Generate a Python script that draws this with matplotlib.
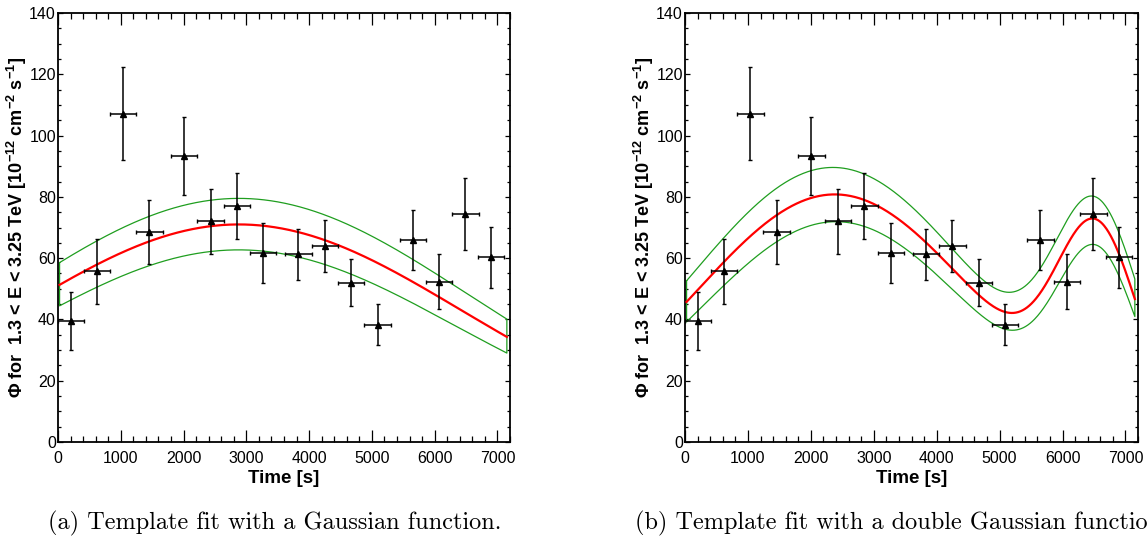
import numpy as np
import matplotlib
matplotlib.use("Agg")
import matplotlib.pyplot as plt
from matplotlib.ticker import MultipleLocator

# ────────────────────────────────────────────────
# Data (same light curve in both panels)
# ────────────────────────────────────────────────
time_s = [205, 620, 1040, 1455, 2010, 2430, 2850, 3270,
          3830, 4250, 4670, 5090, 5650, 6070, 6490, 6900]
time_err = [210] * 16
flux = [39.5, 55.7, 107.2, 68.5, 93.4, 72.0, 77.0, 61.8,
        61.3, 64.0, 52.0, 38.3, 65.9, 52.3, 74.4, 60.3]
flux_err = [9.5, 10.7, 15.1, 10.5, 12.8, 10.7, 10.8, 9.8,
            8.3, 8.6, 7.7, 6.6, 9.7, 8.9, 11.9, 9.9]

# fit parameters: amplitude, mean, sigma (per Gaussian)
gauss_best = [71.0, 2880, 3540]
gauss_upper = [79.5, 2880, 3650]
gauss_lower = [62.7, 2880, 3440]

dgauss_best = [80.8, 2380, 2207, 59.0, 6560, 645]
dgauss_upper = [89.6, 2350, 2253, 64.0, 6560, 680]
dgauss_lower = [71.9, 2400, 2156, 52.9, 6560, 640]

fit_range = [25, 7150]

captions = ["(a) Template fit with a Gaussian function.",
            "(b) Template fit with a double Gaussian function."]

ylabel = (r"Φ for  1.3 < E < 3.25 TeV [10$^{-12}$ cm$^{-2}$ s$^{-1}$]")

# ────────────────────────────────────────────────
# Style
# ────────────────────────────────────────────────
plt.rcParams['font.family'] = ['Liberation Sans', 'DejaVu Sans']
plt.rcParams['mathtext.fontset'] = 'custom'
plt.rcParams['mathtext.bf'] = 'Liberation Sans:bold'
plt.rcParams['mathtext.rm'] = 'Liberation Sans:bold'
plt.rcParams['mathtext.default'] = 'bf'

green = '#1f9e1f'
red = '#ff0000'


def gauss(t, p):
    out = np.zeros_like(t)
    for i in range(0, len(p), 3):
        a, mu, s = p[i:i + 3]
        out += a * np.exp(-(t - mu) ** 2 / (2 * s ** 2))
    return out


def draw_panel(ax, best, upper, lower):
    t = np.linspace(fit_range[0], fit_range[1], 600)
    up = gauss(t, upper)
    lo = gauss(t, lower)
    # band outline drawn as a closed polygon (like the ROOT graph)
    ax.plot(np.concatenate([t, t[::-1], t[:1]]),
            np.concatenate([up, lo[::-1], up[:1]]),
            color=green, lw=0.9, zorder=2)
    ax.plot(t, gauss(t, best), color=red, lw=1.6, zorder=3)

    ax.errorbar(time_s, flux, xerr=time_err, yerr=flux_err,
                fmt='^', color='black', ms=4.8, elinewidth=1.1,
                capsize=1.5, capthick=1.0, zorder=4)

    ax.set_xlim(0, 7200)
    ax.set_ylim(0, 140)
    ax.xaxis.set_major_locator(MultipleLocator(1000))
    ax.xaxis.set_minor_locator(MultipleLocator(200))
    ax.yaxis.set_major_locator(MultipleLocator(20))
    ax.yaxis.set_minor_locator(MultipleLocator(5))

    ax.tick_params(which='both', direction='in', top=True, right=True,
                   labelsize=11.5, width=0.9)
    ax.tick_params(axis='x', which='major', length=8.5, pad=6.5)
    ax.tick_params(axis='x', which='minor', length=4.5)
    ax.tick_params(axis='y', which='major', length=3.8, pad=1.5)
    ax.tick_params(axis='y', which='minor', length=2.0)
    for sp in ax.spines.values():
        sp.set_linewidth(1.3)

    ax.set_xlabel("Time [s]", fontsize=13.5, fontweight='bold')
    ax.xaxis.set_label_coords(0.5, -0.066)
    ax.set_ylabel(ylabel, fontsize=13.0, fontweight='bold')
    ax.yaxis.set_label_coords(-0.064, 0.5)


# ────────────────────────────────────────────────
# Figure
# ────────────────────────────────────────────────
fig = plt.figure(figsize=(11.48, 5.38), dpi=100)
W, H = 1148, 538

ax1 = fig.add_axes([58 / W, (H - 442) / H, 452 / W, 429 / H])
ax2 = fig.add_axes([685 / W, (H - 442) / H, 453 / W, 429 / H])

draw_panel(ax1, gauss_best, gauss_upper, gauss_lower)
draw_panel(ax2, dgauss_best, dgauss_upper, dgauss_lower)

fig.text(275 / W, (H - 529) / H, captions[0], family='cmr10',
         fontsize=17.5, ha='center', va='baseline')
fig.text(635 / W, (H - 529) / H, captions[1], family='cmr10',
         fontsize=17.5, ha='left', va='baseline')

fig.savefig('out.png', dpi=100)
